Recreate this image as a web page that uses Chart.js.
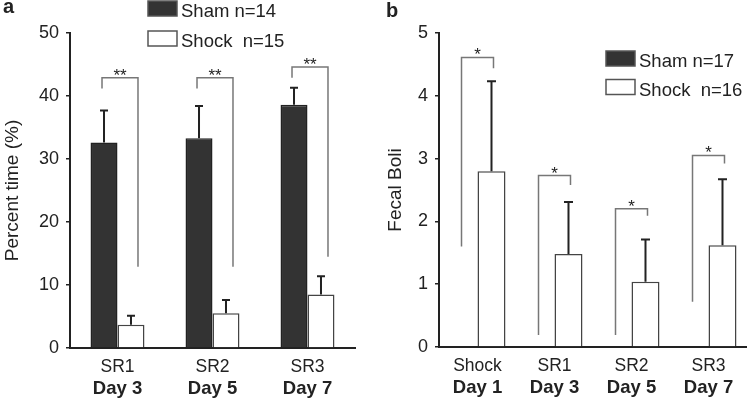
<!DOCTYPE html>
<html>
<head>
<meta charset="utf-8">
<script src="https://cdn.jsdelivr.net/npm/chart.js@4"></script>
<style>
  body { margin: 0; background: #fff; }
  #wa { position: absolute; left: 0; top: 0; width: 370px; height: 404px; }
  #wb { position: absolute; left: 370px; top: 0; width: 377px; height: 404px; }
</style>
</head>
<body>
<div id="wa"><canvas id="chartA"></canvas></div>
<div id="wb"><canvas id="chartB"></canvas></div>
<script>
// panel a - percent time
const catsA = ['SR1', 'SR2', 'SR3'];
const daysA = ['Day 3', 'Day 5', 'Day 7'];
const shamA = [32.6, 33.3, 38.6];
const shamErrA = [5.1, 5.1, 2.7];
const shockA = [3.7, 5.5, 8.5];
const shockErrA = [1.4, 2.1, 2.9];
const brTopA = [42.9, 42.9, 44.6];
const brLeftA = [41.2, 41.2, 42.9];
const brRightA = [12.9, 12.9, 14.5];
const starsA = ['**', '**', '**'];

// panel b - fecal boli
const catsB = ['Shock', 'SR1', 'SR2', 'SR3'];
const daysB = ['Day 1', 'Day 3', 'Day 5', 'Day 7'];
const shamB = [0, 0, 0, 0];
const shamErrB = [0, 0, 0, 0];
const shockB = [2.8, 1.48, 1.04, 1.62];
const shockErrB = [1.43, 0.83, 0.67, 1.05];
const brTopB = [4.61, 2.73, 2.2, 3.05];
const brLeftB = [1.6, 0.19, 0.19, 0.72];
const brRightB = [4.44, 2.58, 2.09, 2.92];
const starsB = ['*', '*', '*', '*'];

const FONT = "'Liberation Sans', Arial, sans-serif";
const INK = '#222';
Chart.defaults.font.family = FONT;
Chart.defaults.color = INK;

// error bars, brackets, legend and panel letter
const extras = {
  id: 'extras',
  afterDatasetsDraw(chart, args, o) {
    const ctx = chart.ctx;
    const y = chart.scales.y;
    ctx.save();

    chart.data.datasets.forEach((ds, i) => {
      const meta = chart.getDatasetMeta(i);
      meta.data.forEach((bar, j) => {
        const e = o.errors[i][j];
        if (!e) return;
        const top = y.getPixelForValue(ds.data[j] + e);
        ctx.strokeStyle = INK;
        ctx.lineWidth = 2;
        ctx.beginPath();
        ctx.moveTo(bar.x, bar.y);
        ctx.lineTo(bar.x, top);
        ctx.moveTo(bar.x - o.cap, top);
        ctx.lineTo(bar.x + o.cap, top);
        ctx.stroke();
      });
    });

    const m0 = chart.getDatasetMeta(0), m1 = chart.getDatasetMeta(1);
    o.brTop.forEach((v, j) => {
      const xl = m0.data[j].x + o.dl;
      const xr = m1.data[j].x + o.dr;
      const yt = y.getPixelForValue(v);
      ctx.strokeStyle = '#777';
      ctx.lineWidth = 1.5;
      ctx.beginPath();
      ctx.moveTo(xl, y.getPixelForValue(o.brLeft[j]));
      ctx.lineTo(xl, yt);
      ctx.lineTo(xr, yt);
      ctx.lineTo(xr, y.getPixelForValue(o.brRight[j]));
      ctx.stroke();
      ctx.fillStyle = INK;
      ctx.font = '17px ' + FONT;
      ctx.textAlign = 'center';
      ctx.textBaseline = 'alphabetic';
      ctx.fillText(o.stars[j], (xl + xr) / 2, yt + 3);
    });

    // legend
    chart.data.datasets.forEach((ds, i) => {
      const bx = o.lx, by = o.ly + i * o.lgap;
      ctx.fillStyle = ds.backgroundColor;
      ctx.fillRect(bx, by, 29, 15);
      ctx.strokeStyle = '#555';
      ctx.lineWidth = 1.5;
      ctx.strokeRect(bx, by, 29, 15);
      ctx.fillStyle = INK;
      ctx.font = '18.5px ' + FONT;
      ctx.textAlign = 'left';
      ctx.fillText(ds.label, bx + 33, by + 16);
    });

    ctx.font = 'bold 20px ' + FONT;
    ctx.textAlign = 'left';
    ctx.fillText(o.letter, o.letterX, o.letterY);
    ctx.restore();
  }
};

function barPanel(id, p) {
  return new Chart(document.getElementById(id), {
    type: 'bar',
    data: {
      labels: p.cats,
      datasets: [
        { label: p.names[0], data: p.sham, xAxisID: 'x', backgroundColor: '#333', borderColor: '#222', borderWidth: 1.5 },
        { label: p.names[1], data: p.shock, xAxisID: 'x', backgroundColor: '#fff', borderColor: '#444', borderWidth: 1.5 }
      ]
    },
    options: {
      responsive: true,
      maintainAspectRatio: false,
      animation: false,
      layout: { padding: p.pad },
      datasets: { bar: { categoryPercentage: p.catPct, barPercentage: 1 } },
      scales: {
        x: {
          type: 'category',
          offset: true,
          weight: 0,
          grid: { display: false, drawTicks: false },
          border: { color: INK, width: 2 },
          ticks: { font: { size: 17.5 }, padding: 9, maxRotation: 0 },
          afterFit: s => { s.height = 30; }
        },
        x2: {
          type: 'category',
          labels: p.days,
          position: 'bottom',
          offset: true,
          weight: 1,
          grid: { display: false, drawTicks: false },
          border: { display: false },
          ticks: { font: { size: 18.5, weight: 'bold' }, padding: 0, maxRotation: 0 },
          afterFit: s => { s.height = 24; }
        },
        y: {
          min: 0,
          max: p.max,
          ticks: { stepSize: p.step, font: { size: 18 }, padding: 7 },
          grid: { drawOnChartArea: false, drawTicks: true, tickLength: 4, color: INK, lineWidth: 1.5 },
          border: { color: INK, width: 2 },
          title: { display: true, text: p.title, font: { size: 19 }, padding: p.titlePad },
          afterFit: s => { s.width = p.yWidth; }
        }
      },
      plugins: {
        legend: { display: false },
        tooltip: { enabled: false },
        extras: p.extras
      }
    },
    plugins: [extras]
  });
}

barPanel('chartA', {
  cats: catsA, days: daysA, sham: shamA, shock: shockA,
  names: ['Sham n=14', 'Shock  n=15'],
  max: 50, step: 10, title: 'Percent time (%)',
  pad: { top: 33, left: 0, right: 15, bottom: 2 },
  yWidth: 70, titlePad: { top: 1, bottom: 0 }, catPct: 0.568,
  extras: {
    errors: [shamErrA, shockErrA], cap: 4,
    brTop: brTopA, brLeft: brLeftA, brRight: brRightA, stars: starsA, dl: -2, dr: 7,
    lx: 148, ly: 1, lgap: 30, letter: 'a', letterX: 3, letterY: 13
  }
});

barPanel('chartB', {
  cats: catsB, days: daysB, sham: shamB, shock: shockB,
  names: ['Sham n=17', 'Shock  n=16'],
  max: 5, step: 1, title: 'Fecal Boli',
  pad: { top: 33, left: 0, right: 0, bottom: 3 },
  yWidth: 69, titlePad: { top: 14, bottom: 0 }, catPct: 0.727,
  extras: {
    errors: [shamErrB, shockErrB], cap: 4.5,
    brTop: brTopB, brLeft: brLeftB, brRight: brRightB, stars: starsB, dl: -2, dr: 2,
    lx: 236, ly: 51, lgap: 28.5, letter: 'b', letterX: 16, letterY: 17
  }
});
</script>
</body>
</html>
